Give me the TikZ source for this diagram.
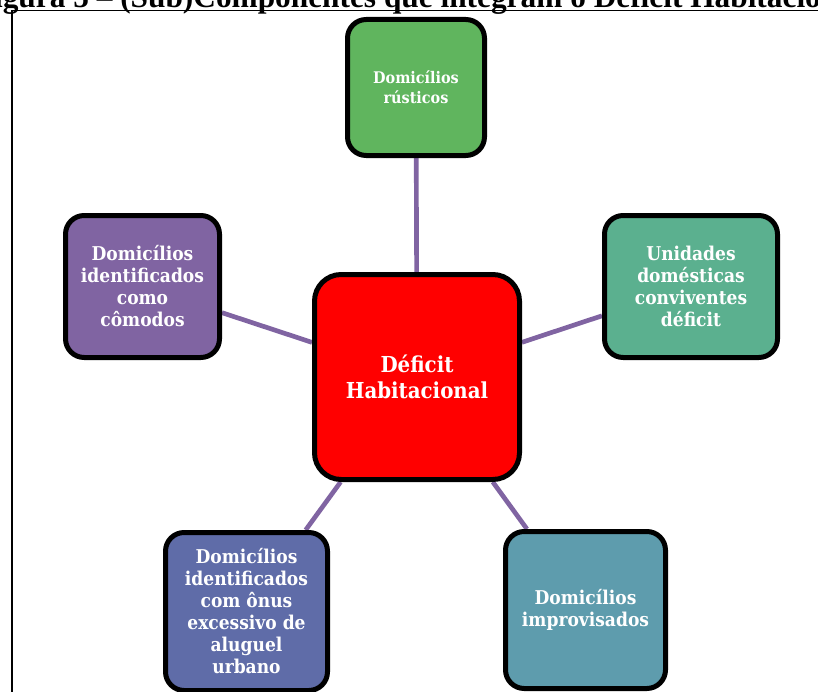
\documentclass[tikz,border=0pt]{standalone}
\usepackage{fontspec}
\setmainfont{Liberation Serif}
\newfontfamily\boxfont{DejaVu Serif Condensed}
\usepackage{xcolor}
\usepackage{tikz}
\usetikzlibrary{backgrounds}

\definecolor{spokecol}{HTML}{8064A2}
\definecolor{rusticcol}{HTML}{60B55E}
\definecolor{roomcol}{HTML}{8064A2}
\definecolor{sharecol}{HTML}{5BB08F}
\definecolor{rentcol}{HTML}{5F6CA8}
\definecolor{improvcol}{HTML}{5E9CAD}

\begin{document}
\begin{tikzpicture}[x=0.75pt,y=0.75pt,yscale=-1,xscale=1,
  comp/.style={draw=black, line width=3.75pt, rounded corners=14pt, align=center, text=white, inner sep=2pt,
    font=\boxfont\bfseries\fontsize{14.25}{16.5}\selectfont},
  spoke/.style={draw=spokecol, line width=3.5pt}]
\useasboundingbox (0,0) rectangle (818,692);

% Caption
\node (caption) [anchor=base west, inner sep=0pt, font=\bfseries\fontsize{23.5}{27}\selectfont] at (120,7.5) {\llap{Figura 5 -- }(Sub)Componentes que integram o Déficit Habitacional};

% Frame
\draw [line width=1.3pt] (12,700) |- (830,10.5) ;

% Central box
\node (deficit) [comp, fill=red, minimum width=153.75pt, minimum height=153.75pt, rounded corners=20pt,
  font=\boxfont\bfseries\fontsize{16.5}{19}\selectfont] at (417,377) {Déficit\\Habitacional};

% Component boxes
\node (rustic) [comp, fill=rusticcol, minimum width=102.75pt, minimum height=102pt,
  font=\boxfont\bfseries\fontsize{12}{15}\selectfont] at (416,87.5) {Domicílios\\rústicos};
\node (rooms) [comp, fill=roomcol, minimum width=115.5pt, minimum height=106.5pt] at (142.5,286.5) {Domicílios\\identificados\\como\\cômodos};
\node (sharing) [comp, fill=sharecol, minimum width=129.75pt, minimum height=106.5pt] at (691,286.5) {Unidades\\domésticas\\conviventes\\déficit};
\node (rent) [comp, fill=rentcol, minimum width=121.5pt, minimum height=118.5pt] at (246.5,611.5) {Domicílios\\identificados\\com ônus\\excessivo de\\aluguel\\urbano};
\node (improv) [comp, fill=improvcol, minimum width=120pt, minimum height=117.75pt] at (585.5,610) {Domicílios\\improvisados};

% Spokes
\begin{scope}[on background layer]
\draw [spoke] (deficit) -- (rustic) ;
\draw [spoke] (deficit) -- (rooms) ;
\draw [spoke] (deficit) -- (sharing) ;
\draw [spoke] (deficit) -- (rent) ;
\draw [spoke] (deficit) -- (improv) ;
\end{scope}

\end{tikzpicture}
\end{document}
